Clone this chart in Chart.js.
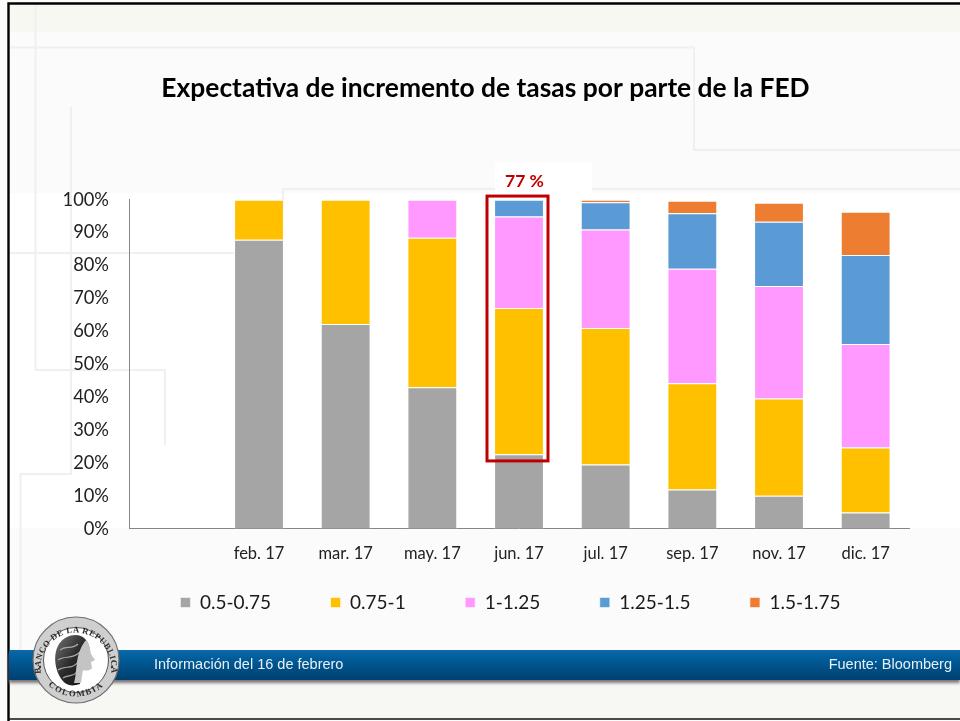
<!DOCTYPE html>
<html lang="es">
<head>
<meta charset="utf-8">
<title>Expectativa de incremento de tasas</title>
<script src="https://cdn.jsdelivr.net/npm/chart.js@4"></script>
<style>
html,body{margin:0;padding:0;width:960px;height:721px;overflow:hidden;background:#fff}
#stage{position:relative;width:960px;height:721px;overflow:hidden}
#stage>svg,#stage>canvas{position:absolute;left:0;top:0}
.t{position:absolute;white-space:nowrap}
#band{position:absolute;left:9px;right:0;top:650px;height:30px;background:linear-gradient(#0a69aa,#005a96 35%,#003f6e);box-shadow:0 3px 3px #777}
#info{left:154px;top:656px;font:14.5px "Liberation Sans",Arial,sans-serif;color:#e6f0f7}
#src{right:8px;top:656px;font:14.5px "Liberation Sans",Arial,sans-serif;color:#e6f0f7}
#pctbox{position:absolute;left:495px;top:163px;width:97px;height:31px;background:#fff}
#pct{left:505px;top:170px;font:bold 17.5px Lato,sans-serif;color:#c00000}
</style>
</head>
<body>
<div id="stage">
<svg width="960" height="721" xmlns="http://www.w3.org/2000/svg">
  <rect x="0" y="0" width="960" height="721" fill="#fbfbfb"/>
  <rect x="8" y="4" width="952" height="28" fill="#f8f8f3"/>
  <rect x="9" y="193" width="951" height="335" fill="#ffffff"/>
  <rect x="8" y="684" width="952" height="34" fill="#f7f7f3"/>
  <g fill="none" stroke="#f0f0f0" stroke-width="2">
    <path d="M35.5 4V370H165V445"/>
    <path d="M8 47.5H694V150H960"/>
    <path d="M71 107V474H20.5V650"/>
    <path d="M283 210V189H960"/>
    <path d="M8 253H235"/>
  </g>
  <path d="M8.5 721V3.5H960" fill="none" stroke="#000" stroke-width="2.4"/>
  <path d="M8 719H960" fill="none" stroke="#111" stroke-width="1.5"/>
</svg>
<div id="pctbox"></div>
<canvas id="c" width="960" height="721"></canvas>
<div class="t" id="pct">77 %</div>
<div id="band"></div>
<div class="t" id="info">Información del 16 de febrero</div>
<div class="t" id="src">Fuente: Bloomberg</div>
<svg width="960" height="721" xmlns="http://www.w3.org/2000/svg" style="pointer-events:none">
  <defs>
    <path id="arcTop" d="M41 674A35.5 35.5 0 1 1 111 674"/>
    <path id="arcBot" d="M38 669A40 40 0 0 0 114 669"/>
    <linearGradient id="hair" x1="0" y1="0" x2="1" y2="1">
      <stop offset="0" stop-color="#777"/><stop offset=".5" stop-color="#2a2a2a"/><stop offset="1" stop-color="#111"/>
    </linearGradient>
  </defs>
  <circle cx="76" cy="660" r="43" fill="#cfcfcf" stroke="#6d6d6d" stroke-width="1.2"/>
  <circle cx="76" cy="660" r="32.5" fill="#fff" stroke="#555" stroke-width="1"/>
  <text font-family="Liberation Serif,serif" font-weight="bold" font-size="8.6" fill="#2b2b2b" letter-spacing="0.5"><textPath href="#arcTop" startOffset="50%" text-anchor="middle">BANCO DE LA REPUBLICA</textPath></text>
  <text font-family="Liberation Serif,serif" font-weight="bold" font-size="8.6" fill="#2b2b2b" letter-spacing="1.6"><textPath href="#arcBot" startOffset="50%" text-anchor="middle">COLOMBIA</textPath></text>
  <path d="M65 683C55 674 52 655 59 644C66 634 80 632 86 640C90 645 90 651 89 654L79 662L80 684C74 686 69 686 65 683Z" fill="url(#hair)"/>
  <path d="M60 650C66 645 72 650 78 644M58 660C65 655 72 660 80 652M58 670C65 665 72 670 78 662M63 678C68 674 72 678 77 672" fill="none" stroke="#aaa" stroke-width="1.1"/>
  <path d="M86 640C90 645 90 650 91 654L95 660L91 662L92 668C90 671 85 671 83 670L81 683L74 683C78 670 74 655 86 640Z" fill="#c4c4c4"/>
  <circle cx="40" cy="667" r="1.2" fill="#333"/><circle cx="112" cy="667" r="1.2" fill="#333"/>
</svg>
</div>
<script>
const categories = ['', 'feb. 17', 'mar. 17', 'may. 17', 'jun. 17', 'jul. 17', 'sep. 17', 'nov. 17', 'dic. 17'];
const tickLabels = ['0%', '10%', '20%', '30%', '40%', '50%', '60%', '70%', '80%', '90%', '100%'];
const seriesNames = ['0.5-0.75', '0.75-1', '1-1.25', '1.25-1.5', '1.5-1.75'];
const seriesColors = ['#a5a5a5', '#ffc000', '#ff99ff', '#5b9bd5', '#ed7d31'];
const s050 = [null, 87.8, 62.2, 43.0, 22.6, 19.5, 11.9, 10.0, 4.9];
const s075 = [null, 12.2, 37.8, 45.4, 44.5, 41.5, 32.3, 29.6, 19.8];
const s100 = [null, 0, 0, 11.6, 27.8, 29.9, 34.8, 34.2, 31.4];
const s125 = [null, 0, 0, 0, 5.1, 8.3, 16.9, 19.5, 27.1];
const s150 = [null, 0, 0, 0, 0, 0.8, 3.8, 5.8, 13.1];
const allSeries = [s050, s075, s100, s125, s150];
const titleText = 'Expectativa de incremento de tasas por parte de la FED';
const highlightCategory = 'jun. 17';
const highlightRange = [20.6, 101.1];

const highlight = {
  id: 'highlight',
  afterLayout(chart) {
    chart.legend.top -= 37;
    chart.legend.bottom -= 37;
    chart.legend.left += 25;
    chart.legend.right += 25;
  },
  afterDatasetsDraw(chart) {
    const {ctx, scales: {x, y}} = chart;
    const cx = x.getPixelForValue(categories.indexOf(highlightCategory));
    const top = y.getPixelForValue(highlightRange[1]);
    const bot = y.getPixelForValue(highlightRange[0]);
    ctx.save();
    ctx.strokeStyle = '#c00000';
    ctx.lineWidth = 3;
    ctx.strokeRect(cx - 32, top, 61, bot - top);
    ctx.restore();
  }
};

new Chart(document.getElementById('c'), {
  type: 'bar',
  data: {
    labels: categories,
    datasets: allSeries.map((values, i) => ({
      label: seriesNames[i],
      data: values,
      backgroundColor: seriesColors[i],
      borderColor: 'rgba(255,255,255,0.55)',
      borderWidth: 1,
      categoryPercentage: 1,
      barPercentage: 0.575
    }))
  },
  options: {
    responsive: false,
    animation: false,
    layout: {padding: {left: 62, right: 51, top: 73, bottom: 62}},
    plugins: {
      title: {
        display: true,
        text: titleText,
        color: '#000',
        font: {family: 'Lato', weight: 'bold', size: 26.4},
        padding: {top: 0, bottom: 95}
      },
      legend: {
        position: 'bottom',
        labels: {
          boxWidth: 10, boxHeight: 10, padding: 59.5,
          color: '#1a1a1a',
          font: {family: 'Lato', size: 19}
        }
      },
      tooltip: {enabled: false}
    },
    scales: {
      x: {
        stacked: true,
        grid: {display: false},
        border: {display: true, color: '#868686', width: 1},
        ticks: {color: '#222', font: {family: 'Lato', size: 16.5}, padding: 7, maxRotation: 0, autoSkip: false}
      },
      y: {
        stacked: true,
        min: 0, max: 100,
        afterFit(s) { s.width = 67; },
        grid: {display: false, drawTicks: false},
        border: {display: true, color: '#868686', width: 1},
        afterBuildTicks(s) { s.ticks = tickLabels.map(t => ({value: parseFloat(t)})); },
        ticks: {
          color: '#222', padding: 20, autoSkip: false,
          font: {family: 'Lato', size: 18.3},
          callback: (v) => tickLabels[tickLabels.indexOf(v + '%')]
        }
      }
    }
  },
  plugins: [highlight]
});
</script>
</body>
</html>
